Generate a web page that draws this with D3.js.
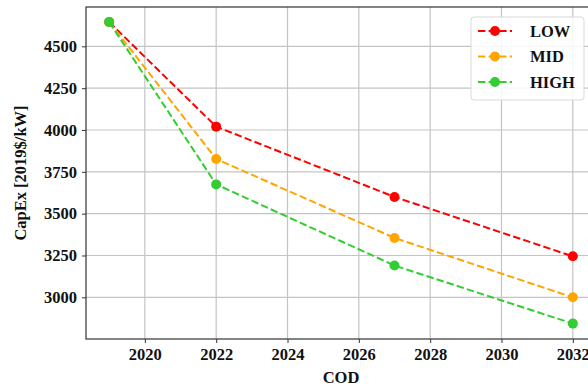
<!DOCTYPE html>
<html><head><meta charset="utf-8">
<script src="https://cdn.jsdelivr.net/npm/d3@7"></script>
<style>body{margin:0;background:#fff}svg{display:block}</style>
</head><body>
<script>
const years = [2019, 2022, 2027, 2032];
const seriesNames = ["LOW", "MID", "HIGH"];
const lowValues = [4645, 4020, 3600, 3245];
const midValues = [4645, 3827, 3355, 3000];
const highValues = [4645, 3675, 3190, 2843];
const seriesColors = ["#ff0000", "#ffa500", "#32cd32"];
const xTicks = [2020, 2022, 2024, 2026, 2028, 2030, 2032];
const yTicks = [3000, 3250, 3500, 3750, 4000, 4250, 4500];

const W = 588, H = 386;
const m = {left: 86, top: 7, right: 596, bottom: 339};
const svg = d3.select("body").append("svg").attr("width", W).attr("height", H);
const x = d3.scaleLinear().domain([2018.35, 2032.65]).range([m.left, m.right]);
const y = d3.scaleLinear().domain([2751, 4735]).range([m.bottom, m.top]);
const font = "'Liberation Serif','Times New Roman',serif";

// grid
svg.append("g").selectAll("line").data(xTicks).join("line")
  .attr("x1", d => x(d)).attr("x2", d => x(d)).attr("y1", m.top).attr("y2", m.bottom)
  .attr("stroke", "#c4c4c4").attr("stroke-width", 1.2);
svg.append("g").selectAll("line").data(yTicks).join("line")
  .attr("x1", m.left).attr("x2", m.right).attr("y1", d => y(d)).attr("y2", d => y(d))
  .attr("stroke", "#c4c4c4").attr("stroke-width", 1.2);

// axes
const xAxis = svg.append("g").attr("transform", `translate(0,${m.bottom})`)
  .call(d3.axisBottom(x).tickValues(xTicks).tickFormat(d3.format("d")).tickSize(4).tickPadding(5));
const yAxis = svg.append("g").attr("transform", `translate(${m.left},0)`)
  .call(d3.axisLeft(y).tickValues(yTicks).tickFormat(d3.format("d")).tickSize(4).tickPadding(5));
[xAxis, yAxis].forEach(a => {
  a.select(".domain").remove();
  a.selectAll(".tick line").attr("stroke", "#333");
  a.selectAll("text").attr("font-family", font).attr("font-weight", "bold")
    .attr("font-size", 16.5).attr("fill", "#111");
});
// frame
svg.append("rect").attr("x", m.left).attr("y", m.top)
  .attr("width", m.right - m.left).attr("height", m.bottom - m.top)
  .attr("fill", "none").attr("stroke", "#333").attr("stroke-width", 1.2);

// series
const allValues = [lowValues, midValues, highValues];
const line = d3.line().x((d, i) => x(years[i])).y(d => y(d));
allValues.forEach((vals, k) => {
  const g = svg.append("g");
  g.append("path").datum(vals).attr("d", line).attr("fill", "none")
    .attr("stroke", seriesColors[k]).attr("stroke-width", 2).attr("stroke-dasharray", "7.4,3.2");
  g.selectAll("circle").data(vals).join("circle")
    .attr("cx", (d, i) => x(years[i])).attr("cy", d => y(d)).attr("r", 5)
    .attr("fill", seriesColors[k]);
});

// labels
svg.append("text").attr("x", (m.left + m.right) / 2).attr("y", 383)
  .attr("text-anchor", "middle").attr("font-family", font).attr("font-weight", "bold")
  .attr("font-size", 16.5).attr("fill", "#111").text("COD");
svg.append("text").attr("transform", `translate(26,${(m.top + m.bottom) / 2}) rotate(-90)`)
  .attr("text-anchor", "middle").attr("font-family", font).attr("font-weight", "bold")
  .attr("font-size", 16.5).attr("fill", "#111").text("CapEx [2019$/kW]");

// legend
const lg = svg.append("g");
lg.append("rect").attr("x", 471).attr("y", 17).attr("width", 113).attr("height", 83).attr("rx", 3)
  .attr("fill", "#fff").attr("fill-opacity", 0.85).attr("stroke", "#d9d9d9");
seriesNames.forEach((name, k) => {
  const yy = 31 + k * 25.5;
  lg.append("line").attr("x1", 478).attr("x2", 512).attr("y1", yy).attr("y2", yy)
    .attr("stroke", seriesColors[k]).attr("stroke-width", 2).attr("stroke-dasharray", "7.4,3.2");
  lg.append("circle").attr("cx", 495).attr("cy", yy).attr("r", 5).attr("fill", seriesColors[k]);
  lg.append("text").attr("x", 530).attr("y", yy + 5.5).attr("font-family", font)
    .attr("font-weight", "bold").attr("font-size", 16.5).attr("fill", "#111").text(name);
});
</script>
</body></html>
